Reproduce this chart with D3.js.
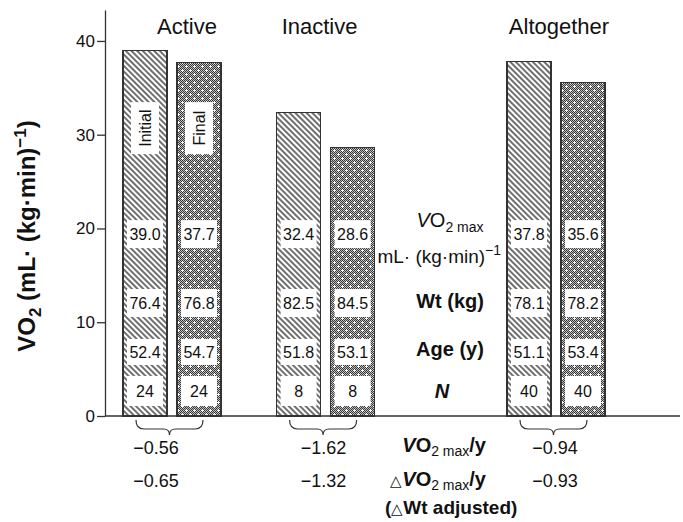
<!DOCTYPE html>
<html>
<head>
<meta charset="utf-8">
<script src="https://cdn.jsdelivr.net/npm/d3@7"></script>
<style>
  body { margin: 0; background: #fff; }
  svg { display: block; font-family: "Liberation Sans", Arial, sans-serif; }
</style>
</head>
<body>
<div id="chart"></div>
<script>
// data
const groups = ['Active', 'Inactive', 'Altogether'];
const initialVO2 = [39.0, 32.4, 37.8];
const finalVO2 = [37.7, 28.6, 35.6];
const initialWt = [76.4, 82.5, 78.1];
const finalWt = [76.8, 84.5, 78.2];
const initialAge = [52.4, 51.8, 51.1];
const finalAge = [54.7, 53.1, 53.4];
const nSubjects = [24, 8, 40];
const vo2PerYear = [-0.56, -1.62, -0.94];
const vo2PerYearAdj = [-0.65, -1.32, -0.93];
const yTicks = [0, 10, 20, 30, 40];

const width = 683, height = 522;
const groupPos = [0, 1, 2.5];          // Altogether sits further right, labels in between
const titleDx = [15, -6, 3];
const numDx = [-16, -2, -1];
const rowY = [19.4, 12.05, 6.83, 2.67]; // vertical centre of the inner boxes (data units)
const rowH = [28, 28, 26, 30];
const barW = 44, barOff = 27;

const svg = d3.select('#chart').append('svg')
  .attr('width', width)
  .attr('height', height);

const y = d3.scaleLinear().domain([0, 43.3]).range([416, 10]);
const x = d3.scaleLinear().domain([0, 2.5]).range([172, 556]);

// patterns
const defs = svg.append('defs');
const hatch = defs.append('pattern')
  .attr('id', 'hatch')
  .attr('patternUnits', 'userSpaceOnUse')
  .attr('width', 4).attr('height', 4)
  .attr('patternTransform', 'rotate(-45)');
hatch.append('rect').attr('width', 4).attr('height', 4).attr('fill', '#fff');
hatch.append('line').attr('x1', 1).attr('y1', 0).attr('x2', 1).attr('y2', 4)
  .attr('stroke', '#222').attr('stroke-width', 1.3);

const checker = defs.append('pattern')
  .attr('id', 'checker')
  .attr('patternUnits', 'userSpaceOnUse')
  .attr('width', 2).attr('height', 2);
checker.append('rect').attr('width', 2).attr('height', 2).attr('fill', '#bdbdbd');
checker.append('rect').attr('width', 1).attr('height', 1).attr('fill', '#3a3a3a');
checker.append('rect').attr('x', 1).attr('y', 1).attr('width', 1).attr('height', 1).attr('fill', '#3a3a3a');

const dots = defs.append('pattern')
  .attr('id', 'dots')
  .attr('patternUnits', 'userSpaceOnUse')
  .attr('width', 8).attr('height', 8);
dots.append('rect').attr('width', 8).attr('height', 8).attr('fill', 'url(#checker)');
[[2, 2], [6, 6]].forEach(([cx, cy]) => {
  dots.append('rect').attr('x', cx - 1).attr('y', cy).attr('width', 3).attr('height', 1).attr('fill', '#fff');
  dots.append('rect').attr('x', cx).attr('y', cy - 1).attr('width', 1).attr('height', 3).attr('fill', '#fff');
});

// bars
const bars = [];
groups.forEach((g, i) => {
  bars.push({ g: i, kind: 'initial', cx: x(groupPos[i]) - barOff, vals: [initialVO2[i], initialWt[i], initialAge[i], nSubjects[i]] });
  bars.push({ g: i, kind: 'final', cx: x(groupPos[i]) + barOff, vals: [finalVO2[i], finalWt[i], finalAge[i], nSubjects[i]] });
});

svg.selectAll('.bar')
  .data(bars)
  .enter().append('rect')
  .attr('class', 'bar')
  .attr('x', d => d.cx - barW / 2)
  .attr('y', d => y(d.vals[0]))
  .attr('width', barW)
  .attr('height', d => y(0) - y(d.vals[0]))
  .attr('fill', d => d.kind === 'initial' ? 'url(#hatch)' : 'url(#dots)')
  .attr('stroke', '#333')
  .attr('stroke-width', 1.2)
  .attr('shape-rendering', 'crispEdges');

// white boxes with values
const fmt = [d3.format('.1f'), d3.format('.1f'), d3.format('.1f'), d3.format('d')];
bars.forEach(b => {
  b.vals.forEach((v, r) => {
    svg.append('rect')
      .attr('x', b.cx - 18)
      .attr('y', y(rowY[r]) - rowH[r] / 2)
      .attr('width', 36)
      .attr('height', rowH[r])
      .attr('fill', '#fff');
    svg.append('text')
      .attr('x', b.cx)
      .attr('y', y(rowY[r]) + 6)
      .attr('text-anchor', 'middle')
      .attr('font-size', 16)
      .attr('fill', '#111')
      .text(fmt[r](v));
  });
});

// Initial / Final labels inside the Active bars
bars.filter(b => b.g === 0).forEach(b => {
  const cy = y(30.7);
  svg.append('rect')
    .attr('x', b.cx - 14).attr('y', cy - 26)
    .attr('width', 28).attr('height', 52)
    .attr('fill', '#fff');
  svg.append('text')
    .attr('transform', `translate(${b.cx + 6},${cy}) rotate(-90)`)
    .attr('text-anchor', 'middle')
    .attr('font-size', 16)
    .attr('fill', '#111')
    .text(b.kind === 'initial' ? 'Initial' : 'Final');
});

// group titles
svg.selectAll('.gtitle')
  .data(groups)
  .enter().append('text')
  .attr('class', 'gtitle')
  .attr('x', (d, i) => x(groupPos[i]) + titleDx[i])
  .attr('y', 34)
  .attr('text-anchor', 'middle')
  .attr('font-size', 22)
  .attr('fill', '#111')
  .text(d => d);

// axes
const yAxis = svg.append('g')
  .attr('transform', 'translate(105,0)')
  .call(d3.axisLeft(y).tickValues(yTicks).tickSize(8).tickPadding(2).tickSizeOuter(0));
yAxis.select('.domain').attr('stroke', '#333').attr('stroke-width', 1.3);
yAxis.selectAll('.tick line').attr('stroke', '#333').attr('stroke-width', 1.3);
yAxis.selectAll('.tick text').attr('font-size', 17).attr('fill', '#111')
  .attr('font-family', '"Liberation Sans", Arial, sans-serif');

svg.append('line')
  .attr('x1', 105).attr('x2', 680)
  .attr('y1', y(0)).attr('y2', y(0))
  .attr('stroke', '#333').attr('stroke-width', 1.3);

// y axis title
const yt = svg.append('text')
  .attr('transform', 'translate(35,236) rotate(-90)')
  .attr('text-anchor', 'middle')
  .attr('font-size', 24)
  .attr('font-weight', 'bold')
  .attr('fill', '#111');
yt.append('tspan').text('VO');
yt.append('tspan').attr('font-size', 17).attr('dy', 6).text('2');
yt.append('tspan').attr('dy', -6).text(' (mL\u00b7 (kg\u00b7min)');
yt.append('tspan').attr('font-size', 17).attr('dy', -9).text('\u22121');
yt.append('tspan').attr('dy', 9).text(')');

// middle row labels
const mx = x(1.81);
const t1 = svg.append('text').attr('x', mx).attr('y', y(rowY[0]) - 7)
  .attr('text-anchor', 'middle').attr('font-size', 20).attr('fill', '#111');
t1.append('tspan').attr('font-style', 'italic').text('V');
t1.append('tspan').text('O');
t1.append('tspan').attr('font-size', 14).attr('dy', 5).text('2 max');

const t2 = svg.append('text').attr('x', x(1.74)).attr('y', y(rowY[0]) + 29)
  .attr('text-anchor', 'middle').attr('font-size', 19).attr('fill', '#111');
t2.append('tspan').text('mL\u00b7 (kg\u00b7min)');
t2.append('tspan').attr('font-size', 14).attr('dy', -8).text('\u22121');

[['Wt (kg)', 1, 5, 'normal'], ['Age (y)', 2, 4, 'normal'], ['N', 3, 7, 'italic']].forEach(([s, r, dy, st]) => {
  svg.append('text')
    .attr('x', mx - (st === 'italic' ? 8 : 0))
    .attr('y', y(rowY[r]) + dy)
    .attr('text-anchor', 'middle')
    .attr('font-size', 20)
    .attr('font-weight', 'bold')
    .attr('font-style', st)
    .attr('fill', '#111')
    .text(s);
});

// braces under each pair
const brace = (x0, x1, top) => {
  const c = (x0 + x1) / 2, m = top + 9;
  return `M${x0},${top} Q${x0},${m} ${x0 + 8},${m} L${c - 6},${m} Q${c},${m} ${c},${m + 6}` +
    ` Q${c},${m} ${c + 6},${m} L${x1 - 8},${m} Q${x1},${m} ${x1},${top}`;
};
groups.forEach((g, i) => {
  const gc = x(groupPos[i]);
  svg.append('path')
    .attr('d', brace(gc - 36, gc + 31, y(0) + 4))
    .attr('fill', 'none')
    .attr('stroke', '#333')
    .attr('stroke-width', 1.2);
});

// slopes
const f2 = d3.format('.2f');
svg.selectAll('.slope1')
  .data(vo2PerYear)
  .enter().append('text')
  .attr('x', (d, i) => x(groupPos[i]) + numDx[i])
  .attr('y', 454)
  .attr('text-anchor', 'middle')
  .attr('font-size', 18)
  .attr('fill', '#111')
  .text(d => f2(d));
svg.selectAll('.slope2')
  .data(vo2PerYearAdj)
  .enter().append('text')
  .attr('x', (d, i) => x(groupPos[i]) + numDx[i])
  .attr('y', 487)
  .attr('text-anchor', 'middle')
  .attr('font-size', 18)
  .attr('fill', '#111')
  .text(d => f2(d));

const b1 = svg.append('text').attr('x', 486).attr('y', 452)
  .attr('text-anchor', 'end').attr('font-size', 20).attr('font-weight', 'bold').attr('fill', '#111');
b1.append('tspan').attr('font-style', 'italic').text('V');
b1.append('tspan').text('O');
b1.append('tspan').attr('font-size', 14).attr('font-weight', 'normal').attr('dy', 4).text('2 max');
b1.append('tspan').attr('dy', -4).text('/y');

const b2 = svg.append('text').attr('x', 486).attr('y', 486)
  .attr('text-anchor', 'end').attr('font-size', 20).attr('font-weight', 'bold').attr('fill', '#111');
b2.append('tspan').attr('font-size', 15).attr('font-weight', 'normal').text('\u25b3');
b2.append('tspan').attr('font-style', 'italic').text('V');
b2.append('tspan').text('O');
b2.append('tspan').attr('font-size', 14).attr('font-weight', 'normal').attr('dy', 4).text('2 max');
b2.append('tspan').attr('dy', -4).text('/y');

const b3 = svg.append('text').attr('x', 385).attr('y', 514)
  .attr('font-size', 19).attr('font-weight', 'bold').attr('fill', '#111');
b3.append('tspan').text('(');
b3.append('tspan').attr('font-size', 15).attr('font-weight', 'normal').text('\u25b3');
b3.append('tspan').text('Wt adjusted)');
</script>
</body>
</html>
